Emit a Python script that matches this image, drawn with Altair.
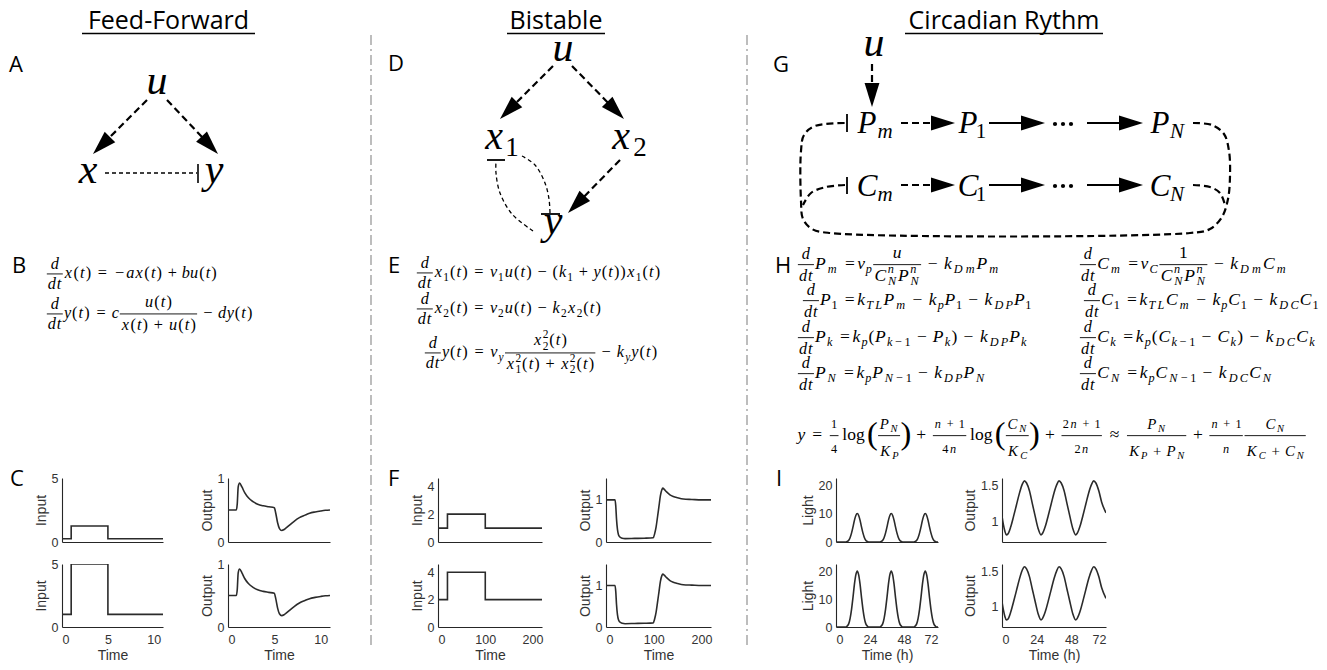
import math
import altair as alt
import pandas as pd

# ------------------------------------------------------------------ data
column_titles = ["Feed-Forward", "Bistable", "Circadian Rythm"]
panel_letters = ["A", "B", "C", "D", "E", "F", "G", "H", "I"]

# C  (feed-forward)
ff_step_time = [0, 1, 5, 11]
ff_input_small = [0.25, 1.25, 0.25, 0.25]
ff_input_large = [1, 5, 1, 1]
ff_out_time = [0, 0.9, 1.0, 1.1, 1.25, 1.5, 1.8, 2.2, 2.7, 3.2, 3.8, 4.4, 5.0, 5.15,
               5.35, 5.55, 5.8, 6.1, 6.6, 7.1, 7.7, 8.3, 8.8, 9.4, 10.0, 10.5, 11.0]
ff_output_small = [0.5, 0.5, 0.6, 0.86, 0.92, 0.86, 0.77, 0.69, 0.63, 0.59, 0.565, 0.55,
                   0.535, 0.45, 0.3, 0.21, 0.18, 0.2, 0.26, 0.32, 0.38, 0.42, 0.45, 0.47,
                   0.485, 0.495, 0.5]
ff_output_large = [0.5, 0.5, 0.6, 0.86, 0.92, 0.86, 0.77, 0.69, 0.63, 0.59, 0.565, 0.55,
                   0.535, 0.45, 0.3, 0.21, 0.18, 0.2, 0.26, 0.32, 0.38, 0.42, 0.45, 0.47,
                   0.485, 0.495, 0.5]

# F  (bistable)
bs_step_time = [0, 20, 100, 220]
bs_input_small = [1, 2, 1, 1]
bs_input_large = [2, 4, 2, 2]
bs_out_time = [0, 19, 20.5, 22, 24, 26, 29, 34, 40, 60, 80, 99, 102, 105, 108, 111, 114,
               117, 119, 122, 127, 134, 141, 150, 162, 180, 200, 220]
bs_output_small = [1.0, 1.0, 0.85, 0.55, 0.3, 0.18, 0.12, 0.09, 0.08, 0.085, 0.09, 0.1, 0.2,
                   0.36, 0.6, 0.85, 1.1, 1.24, 1.28, 1.25, 1.19, 1.12, 1.08, 1.05, 1.02, 1.01,
                   1.0, 1.0]
bs_output_large = [1.0, 1.0, 0.85, 0.55, 0.3, 0.18, 0.12, 0.09, 0.08, 0.085, 0.09, 0.1, 0.2,
                   0.36, 0.6, 0.85, 1.1, 1.24, 1.28, 1.25, 1.19, 1.12, 1.08, 1.05, 1.02, 1.01,
                   1.0, 1.0]

# I  (circadian)
cr_light_time = [0, 6, 7, 8, 9, 10, 11, 12, 13, 14, 15, 16, 17, 18, 19, 20, 21, 22, 23, 24,
                 30, 31, 32, 33, 34, 35, 36, 37, 38, 39, 40, 41, 42, 43, 44, 45, 46, 47, 48,
                 54, 55, 56, 57, 58, 59, 60, 61, 62, 63, 64, 65, 66, 67, 68, 69, 70, 71, 72]
cr_light_small = [0, 0, 0, 0.2, 0.6, 1.6, 3.2, 5.3, 7.6, 9.3, 10, 9.3, 7.6, 5.3, 3.2, 1.6, 0.6, 0.2, 0, 0,
                  0, 0, 0.2, 0.6, 1.6, 3.2, 5.3, 7.6, 9.3, 10, 9.3, 7.6, 5.3, 3.2, 1.6, 0.6, 0.2, 0, 0,
                  0, 0, 0.2, 0.6, 1.6, 3.2, 5.3, 7.6, 9.3, 10, 9.3, 7.6, 5.3, 3.2, 1.6, 0.6, 0.2, 0, 0]
cr_light_large = [0, 0, 0, 0.4, 1.2, 3.2, 6.4, 10.6, 15.2, 18.6, 20, 18.6, 15.2, 10.6, 6.4, 3.2, 1.2, 0.4, 0, 0,
                  0, 0, 0.4, 1.2, 3.2, 6.4, 10.6, 15.2, 18.6, 20, 18.6, 15.2, 10.6, 6.4, 3.2, 1.2, 0.4, 0, 0,
                  0, 0, 0.4, 1.2, 3.2, 6.4, 10.6, 15.2, 18.6, 20, 18.6, 15.2, 10.6, 6.4, 3.2, 1.2, 0.4, 0, 0]
cr_out_time = [0, 1, 2, 3, 4, 6, 8, 10, 12, 14, 15.5, 17, 19, 21, 23, 25, 27, 28, 30, 32, 34,
               36, 38, 39.5, 41, 43, 45, 47, 49, 51, 52, 54, 56, 58, 60, 62, 63.5, 65, 67, 69, 72]
cr_output_small = [1.07, 0.95, 0.86, 0.81, 0.82, 0.92, 1.07, 1.23, 1.39, 1.52, 1.57, 1.54, 1.43,
                   1.25, 1.07, 0.9, 0.81, 0.83, 0.93, 1.08, 1.24, 1.40, 1.52, 1.57, 1.54, 1.43,
                   1.25, 1.07, 0.9, 0.81, 0.83, 0.93, 1.08, 1.24, 1.40, 1.52, 1.57, 1.54, 1.43,
                   1.27, 1.12]
cr_output_large = [1.07, 0.95, 0.86, 0.81, 0.82, 0.92, 1.07, 1.23, 1.39, 1.52, 1.57, 1.54, 1.43,
                   1.25, 1.07, 0.9, 0.81, 0.83, 0.93, 1.08, 1.24, 1.40, 1.52, 1.57, 1.54, 1.43,
                   1.25, 1.07, 0.9, 0.81, 0.83, 0.93, 1.08, 1.24, 1.40, 1.52, 1.57, 1.54, 1.43,
                   1.27, 1.12]

# ------------------------------------------------------------------ math typesetting helper
WI = {'a': .529, 'b': .429, 'c': .433, 'd': .520, 'k': .521, 'n': .600, 'p': .503, 't': .361,
      'u': .572, 'v': .485, 'x': .572, 'y': .490, 'm': .878, 'C': .715, 'D': .828, 'K': .849,
      'L': .681, 'N': .803, 'P': .642, 'T': .584}
WR = {'(': .389, ')': .389, '+': .778, '=': .778, '\u2212': .778, '\u2248': .778,
      'l': .278, 'o': .5, 'g': .5}

ITAL, ROM, BARS = [], [], []


def _adv(ch, kind, S, scr):
    tbl = WI if kind == 'i' else WR
    return tbl.get(ch, 0.5) * S * (1.14 if scr else 1.0)


def ts(items, x, base, S, out=True, scr=False):
    for it in items:
        k = it[0]
        if k in ('i', 'r'):
            for ch in it[1]:
                a = _adv(ch, k, S, scr)
                if out:
                    (ITAL if k == 'i' else ROM).append({'x': x + a / 2, 'y': base, 't': ch, 's': S})
                x += a
        elif k == 'sp':
            x += it[1] * S
        elif k == 'sub':
            x = ts(it[1], x, base + 0.22 * S, 0.7 * S, out, True)
        elif k == 'sup':
            x = ts(it[1], x, base - 0.42 * S, 0.7 * S, out, True)
        elif k == 'ss':
            xa = ts(it[1], x, base + 0.28 * S, 0.7 * S, out, True)
            xb = ts(it[2], x, base - 0.42 * S, 0.7 * S, out, True)
            x = max(xa, xb)
        elif k == 'frac':
            _, num, den, nu, de, kk = it
            Sf = S * kk
            sc = kk < 0.8
            wn = ts(num, 0, 0, Sf, False, sc)
            wd = ts(den, 0, 0, Sf, False, sc)
            wf = max(wn, wd) + 0.2 * S
            if out:
                ts(num, x + (wf - wn) / 2, base - nu * S, Sf, True, sc)
                ts(den, x + (wf - wd) / 2, base + de * S, Sf, True, sc)
                ya = base - 0.25 * S
                BARS.append({'x': x + 0.05 * S, 'x2': x + wf - 0.05 * S, 'y': ya, 'y2': ya, 'w': 0.9})
            x += wf
        elif k == 'big':
            a = 0.55 * S
            if out:
                F = 1.85 * S
                ROM.append({'x': x + a / 2, 'y': base - 0.25 * S + 0.25 * F, 't': it[1], 's': F})
            x += a
    return x


def I(s): return ('i', s)
def R(s): return ('r', s)
def SP(v): return ('sp', v)
def SUB(*a): return ('sub', list(a))
def SS(a, b): return ('ss', a, b)
def FR(n, d, nu=0.58, de=0.68, k=1.0): return ('frac', n, d, nu, de, k)
def BIN(s): return [SP(4 / 18), R(s), SP(4 / 18)]
def REL(s): return [SP(5 / 18), R(s), SP(5 / 18)]


MINUS = '\u2212'
DDT = FR([I('d')], [I('dt')])
DDT_H = FR([I('d')], [I('dt')], 0.56, 0.66, 0.93)
T_ = [R('('), I('t'), R(')')]

# B
eqB = [
    ([DDT, I('x')] + T_ + REL('=') + [R(MINUS), I('ax')] + T_ + BIN('+') + [I('bu')] + T_, 46, 277),
    ([DDT, I('y')] + T_ + REL('=') + [I('c'), FR([I('u')] + T_, [I('x')] + T_ + BIN('+') + [I('u')] + T_, 0.68, 0.72)]
     + BIN(MINUS) + [I('dy')] + T_, 46, 317),
]
# E
X1 = [I('x'), SUB(R('1'))]
X2 = [I('x'), SUB(R('2'))]
eqE = [
    ([DDT] + X1 + T_ + REL('=') + [I('v'), SUB(R('1')), I('u')] + T_ + BIN(MINUS) + [R('('), I('k'), SUB(R('1'))]
     + BIN('+') + [I('y')] + T_ + [R(')')] + X1 + T_, 416, 276),
    ([DDT] + X2 + T_ + REL('=') + [I('v'), SUB(R('2')), I('u')] + T_ + BIN(MINUS) + [I('k'), SUB(R('2'))] + X2 + T_,
     416, 312),
    ([DDT, I('y')] + T_ + REL('=') + [I('v'), SUB(I('y')),
     FR([I('x'), SS([R('2')], [R('2')])] + T_,
        [I('x'), SS([R('1')], [R('2')])] + T_ + BIN('+') + [I('x'), SS([R('2')], [R('2')])] + T_, 0.74, 0.72)]
     + BIN(MINUS) + [I('k'), SUB(I('y')), I('y')] + T_, 424, 356),
]


def Hcol(V, DX):
    EQ = [SP(5 / 18), R('=')]
    return [
        ([DDT_H, I(V), SUB(I('m'))] + EQ + [I('v'), SUB(I('p') if V == 'P' else I('C')),
         FR([I('u')] if V == 'P' else [R('1')],
            [I('C'), SS([I('N')], [I('n')]), I('P'), SS([I('N')], [I('n')])], 0.62, 0.66)]
         + BIN(MINUS) + [I('k'), SUB(I('Dm')), I(V), SUB(I('m'))], 268),
        ([DDT_H, I(V), SUB(R('1'))] + EQ + [I('k'), SUB(I('TL')), I(V), SUB(I('m'))] + BIN(MINUS)
         + [I('k'), SUB(I('p')), I(V), SUB(R('1'))] + BIN(MINUS) + [I('k'), SUB(I(DX)), I(V), SUB(R('1'))], 304),
        ([DDT_H, I(V), SUB(I('k'))] + EQ + [I('k'), SUB(I('p')), R('('), I(V), SUB(I('k'), R(MINUS), R('1'))]
         + BIN(MINUS) + [I(V), SUB(I('k')), R(')')] + BIN(MINUS) + [I('k'), SUB(I(DX)), I(V), SUB(I('k'))], 341),
        ([DDT_H, I(V), SUB(I('N'))] + EQ + [I('k'), SUB(I('p')), I(V), SUB(I('N'), R(MINUS), R('1'))]
         + BIN(MINUS) + [I('k'), SUB(I(DX)), I(V), SUB(I('N'))], 377),
    ]


eqH_left = Hcol('P', 'DP')
eqH_right = Hcol('C', 'DC')
H_left_x = [797, 802, 797, 797]
H_right_x = [1079, 1083, 1079, 1079]
PN = [I('P'), SUB(I('N'))]
CN = [I('C'), SUB(I('N'))]
KP = [I('K'), SUB(I('P'))]
KC = [I('K'), SUB(I('C'))]
NP1 = [I('n')] + BIN('+') + [R('1')]
LOG = [SP(1 / 6), R('log'), SP(1 / 6)]
eqY = ([I('y')] + REL('=') + [FR([R('1')], [R('4')], 0.69, 0.74, 0.7)] + LOG
       + [('big', '('), FR(PN, KP, 0.62, 0.9, 0.85), ('big', ')')] + BIN('+')
       + [FR(NP1, [R('4'), I('n')], 0.69, 0.74, 0.7)] + LOG
       + [('big', '('), FR(CN, KC, 0.62, 0.9, 0.85), ('big', ')')] + BIN('+')
       + [FR([R('2'), I('n')] + BIN('+') + [R('1')], [R('2'), I('n')], 0.69, 0.74, 0.7)] + REL('\u2248')
       + [FR(PN, KP + BIN('+') + PN, 0.62, 0.9, 0.85)] + BIN('+')
       + [FR(NP1, [I('n')], 0.69, 0.74, 0.7), FR(CN, KC + BIN('+') + CN, 0.62, 0.9, 0.85)])

S_BE, S_H = 16.3, 17.5
for items, x0, b in eqB + eqE:
    ts(items, x0, b, S_BE)
for (items, b), x0 in zip(eqH_left, H_left_x):
    ts(items, x0, b, S_H)
for (items, b), x0 in zip(eqH_right, H_right_x):
    ts(items, x0, b, S_H)
ts(eqY, 797, 439, S_H)

# ------------------------------------------------------------------ network diagrams
node_ital = [  # text, center x, baseline y, size
    ('u', 157, 93, 42), ('x', 88, 182, 42), ('y', 214, 182, 42),
    ('u', 563, 60, 42), ('x', 494, 148, 40), ('x', 621, 148, 40), ('y', 553, 233, 42),
    ('u', 874, 55, 42),
    ('P', 867, 132, 31), ('m', 885, 137, 21), ('P', 968, 132, 31), ('P', 1160, 132, 31), ('N', 1177, 137, 21),
    ('C', 867, 195, 31), ('m', 885, 200, 21), ('C', 968, 195, 31), ('C', 1160, 195, 31), ('N', 1177, 200, 21),
]
node_rom = [('1', 512, 155, 27), ('2', 640, 155, 27), ('1', 981, 137, 21), ('1', 981, 200, 21)]
for t, x, y, s in node_ital:
    ITAL.append({'x': x, 'y': y, 't': t, 's': s})
for t, x, y, s in node_rom:
    ROM.append({'x': x, 'y': y, 't': t, 's': s})

HEAD = "M0,-1L0.62,1L-0.62,1Z"
HL = 24.0
DASH_THICK, DASH_THIN, SOLID, HEADS = [], [], [], []
_lid = [0]


def add_line(lst, pts):
    _lid[0] += 1
    for i, (x, y) in enumerate(pts):
        lst.append({'id': _lid[0], 'o': i, 'x': x, 'y': y})


def arrow(lst, p0, tip):
    dx, dy = tip[0] - p0[0], tip[1] - p0[1]
    L = math.hypot(dx, dy)
    ux, uy = dx / L, dy / L
    cx, cy = tip[0] - ux * HL / 2, tip[1] - uy * HL / 2
    add_line(lst, [p0, (cx, cy)])
    HEADS.append({'x': cx, 'y': cy, 'a': math.degrees(math.atan2(ux, -uy)) % 360})


# A
arrow(DASH_THICK, (147, 99), (93, 153))
arrow(DASH_THICK, (167, 99), (218, 153))
add_line(DASH_THIN, [(105, 172), (197, 172)])
# D
arrow(DASH_THICK, (553, 65), (500, 118))
arrow(DASH_THICK, (572, 65), (624, 118))
arrow(DASH_THICK, (620, 159), (568, 212))
add_line(DASH_THIN, [(533, 230), (512, 213), (500, 192), (496, 172), (496, 160)])
add_line(DASH_THIN, [(522, 155), (535, 164), (545, 182), (549, 198), (550, 212)])
# G
arrow(DASH_THICK, (872, 63), (872, 106))
for yy in (122, 184):
    arrow(DASH_THICK, (901, yy), (955, yy))
    arrow(SOLID, (989, yy), (1045, yy))
    arrow(SOLID, (1087, yy), (1143, yy))
add_line(DASH_THICK, [(1193, 122), (1212, 124), (1224, 133), (1229, 150), (1230, 175), (1228, 198),
                      (1222, 216), (1210, 228), (1190, 232), (830, 232), (812, 228), (803, 218),
                      (801, 200), (801, 150), (804, 134), (815, 125), (845, 122)])
add_line(DASH_THICK, [(1193, 184), (1210, 186), (1220, 192), (1225, 204)])
add_line(DASH_THICK, [(845, 184), (826, 186), (811, 192), (803, 204)])
DOTS = [{'x': x, 'y': y} for y in (123, 185) for x in (1055, 1063, 1071)]

INHIB = [
    {'x': 198, 'y': 163, 'x2': 198, 'y2': 182, 'w': 1.6},
    {'x': 487, 'y': 159, 'x2': 505, 'y2': 159, 'w': 1.8},
    {'x': 541, 'y': 213, 'x2': 560, 'y2': 213, 'w': 1.8},
    {'x': 847, 'y': 113, 'x2': 847, 'y2': 131, 'w': 1.8},
    {'x': 847, 'y': 176, 'x2': 847, 'y2': 193, 'w': 1.8},
]

TITLE_SIZE = 25
TITLES = [{'x': 168.5, 'y': 27.5, 't': column_titles[0]},
          {'x': 556, 'y': 27.5, 't': column_titles[1]},
          {'x': 1004, 'y': 27.5, 't': column_titles[2]}]
UNDERLINES = [{'x': 82, 'x2': 255, 'y': 32.5, 'y2': 32.5, 'w': 1.4},
              {'x': 507, 'x2': 605, 'y': 32.5, 'y2': 32.5, 'w': 1.4},
              {'x': 905, 'x2': 1103, 'y': 32.5, 'y2': 32.5, 'w': 1.4}]
letter_pos = [(9, 71), (12, 272), (10, 485), (388, 70), (388, 272), (388, 485), (773, 71), (775, 272), (776, 485)]
LETTERS = [{'x': p[0], 'y': p[1], 't': t} for t, p in zip(panel_letters, letter_pos)]
SEPS = [{'x': 371, 'x2': 371, 'y': 34, 'y2': 645}, {'x': 747, 'x2': 747, 'y': 34, 'y2': 645}]

# ------------------------------------------------------------------ annotation chart
ANN_H = 477 - 8
XS = alt.Scale(domain=[8, 1319], nice=False, zero=False)
YS = alt.Scale(domain=[8, 8 + ANN_H], nice=False, zero=False, reverse=True)
X = alt.X('x:Q', scale=XS, axis=None)
Y = alt.Y('y:Q', scale=YS, axis=None)


def D(rows):
    return pd.DataFrame(rows)


layers = [
    alt.Chart(D(SEPS)).mark_rule(color='#a8a8a8', strokeWidth=1.5, strokeDash=[10, 4, 2, 4]).encode(
        X, Y, x2='x2:Q', y2='y2:Q'),
    alt.Chart(D(TITLES)).mark_text(font='Open Sans', fontSize=TITLE_SIZE, align='center', baseline='alphabetic',
                                   color='black').encode(X, Y, text='t:N'),
    alt.Chart(D(UNDERLINES + INHIB + BARS)).mark_rule(color='black').encode(
        X, Y, x2='x2:Q', y2='y2:Q', size=alt.Size('w:Q', scale=None)),
    alt.Chart(D(LETTERS)).mark_text(font='Open Sans', fontSize=22, align='left', baseline='alphabetic',
                                    color='black').encode(X, Y, text='t:N'),
    alt.Chart(D(DASH_THICK)).mark_line(color='black', strokeWidth=2.2, strokeDash=[7, 4],
                                       interpolate='catmull-rom').encode(X, Y, detail='id:N', order='o:Q'),
    alt.Chart(D(DASH_THIN)).mark_line(color='black', strokeWidth=1.3, strokeDash=[4, 3],
                                      interpolate='catmull-rom').encode(X, Y, detail='id:N', order='o:Q'),
    alt.Chart(D(SOLID)).mark_line(color='black', strokeWidth=2.2).encode(X, Y, detail='id:N', order='o:Q'),
    alt.Chart(D(HEADS)).mark_point(shape=HEAD, filled=True, color='black', size=HL * HL, opacity=1,
                                   strokeWidth=0).encode(X, Y, angle=alt.Angle('a:Q', scale=None)),
    alt.Chart(D(DOTS)).mark_circle(color='black', size=18, opacity=1).encode(X, Y),
    alt.Chart(D(ITAL)).mark_text(font='Liberation Serif', fontStyle='italic', align='center',
                                 baseline='alphabetic', color='black').encode(
        X, Y, text='t:N', size=alt.Size('s:Q', scale=None)),
    alt.Chart(D(ROM)).mark_text(font='Liberation Serif', align='center', baseline='alphabetic',
                                color='black').encode(
        X, Y, text='t:N', size=alt.Size('s:Q', scale=None)),
]
annot = alt.layer(*layers).properties(width=1311, height=ANN_H)

# ------------------------------------------------------------------ small time-series panels
AX = dict(domainColor='#262626', domainWidth=1.1, ticks=False, grid=False,
          labelFont='Liberation Sans', labelFontSize=12.5, labelColor='#333333',
          titleFont='Liberation Sans', titleFontSize=14, titleFontWeight='normal', titleColor='#333333',
          labelExpr="'' + datum.value")


def panel(t, v, xdom, xticks, ydom, yticks, ytitle, xtitle, bottom, w, h, interp):
    df = pd.DataFrame({'t': t, 'v': v})
    if bottom:
        xa = alt.Axis(values=xticks, labels=True, title=xtitle, labelPadding=6, titlePadding=3, **AX)
    else:
        xa = alt.Axis(values=xticks, labels=False, title=None, **AX)
    ya = alt.Axis(values=yticks, title=ytitle, labelPadding=4, titlePadding=3, **AX)
    return alt.Chart(df).mark_line(color='#2b2b2b', strokeWidth=1.6, interpolate=interp, clip=True).encode(
        x=alt.X('t:Q', scale=alt.Scale(domain=xdom, nice=False, zero=False), axis=xa),
        y=alt.Y('v:Q', scale=alt.Scale(domain=ydom, nice=False, zero=False), axis=ya),
    ).properties(width=w, height=h)


def spacer(w, h=10):
    return alt.Chart(pd.DataFrame({'a': [0]})).mark_point(opacity=0).encode(
        x=alt.X('a:Q', axis=None), y=alt.Y('a:Q', axis=None)).properties(width=w, height=h)


H1, H2 = 64, 63


def row(bottom, h):
    k = 1 if bottom else 0
    ffi = [ff_input_small, ff_input_large][k]
    ffo = [ff_output_small, ff_output_large][k]
    bsi = [bs_input_small, bs_input_large][k]
    bso = [bs_output_small, bs_output_large][k]
    crl = [cr_light_small, cr_light_large][k]
    cro = [cr_output_small, cr_output_large][k]
    return alt.hconcat(
        spacer(54),
        panel(ff_step_time, ffi, [0, 11], [0, 5, 10], [0, 5], [0, 5], 'Input', 'Time', bottom, 101, h, 'step-after'),
        spacer(65),
        panel(ff_out_time, ffo, [0, 11], [0, 5, 10], [0, 1], [0, 1], 'Output', 'Time', bottom, 102, h, 'monotone'),
        spacer(108),
        panel(bs_step_time, bsi, [0, 220], [0, 100, 200], [0, 4.6], [0, 2, 4], 'Input', 'Time', bottom, 104, h, 'step-after'),
        spacer(64),
        panel(bs_out_time, bso, [0, 220], [0, 100, 200], [0, 1.52], [0, 1], 'Output', 'Time', bottom, 105, h, 'monotone'),
        spacer(125),
        panel(cr_light_time, crl, [0, 72], [0, 24, 48, 72], [0, 22.5], [0, 10, 20], 'Light', 'Time (h)', bottom, 102, h, 'monotone'),
        spacer(64),
        panel(cr_out_time, cro, [0, 72], [0, 24, 48, 72], [0.71, 1.61], [1, 1.5], 'Output', 'Time (h)', bottom, 104, h, 'monotone'),
        spacing=0, bounds='flush')


row_top = row(False, H1)
row_bottom = row(True, H2)
gap = spacer(10, H1 + 22)

chart = alt.vconcat(annot, row_top, gap, row_bottom, spacing=0, bounds='flush',
                    padding=0).configure_view(strokeWidth=0)
chart.save("out.html", embed_options={"renderer": "svg", "actions": False})
